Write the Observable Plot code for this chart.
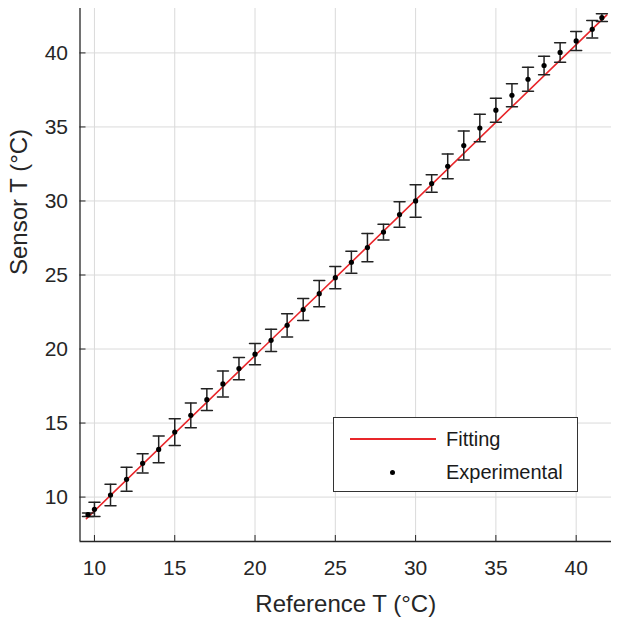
<!DOCTYPE html>
<html><head><meta charset="utf-8">
<script src="https://cdn.jsdelivr.net/npm/d3@7"></script>
<script src="https://cdn.jsdelivr.net/npm/@observablehq/plot@0.6"></script>
<style>
body{margin:0;background:#fff;}
#wrap{position:relative;width:620px;height:621px;font-family:"Liberation Sans",Arial,sans-serif;}
#legend{position:absolute;left:333px;top:417px;width:245px;height:75px;border:1.5px solid #333;background:#fff;box-sizing:border-box;color:#1a1a1a;font-size:20px;}
#legend .row{position:absolute;left:0;height:30px;width:100%;}
#legend .lab{position:absolute;left:112px;top:50%;transform:translateY(-50%);white-space:nowrap;}
#legend .ln{position:absolute;left:16px;width:86px;top:50%;height:2px;margin-top:-1px;background:#e8262a;}
#legend .dt{position:absolute;left:56px;top:50%;width:5px;height:5px;margin-top:-2.5px;border-radius:50%;background:#000;}
</style>
</head><body>
<div id="wrap"></div>
<script>
// Data
const refT = [9.6, 10, 11, 12, 13, 14, 15, 16, 17, 18, 19, 20, 21, 22, 23, 24, 25, 26, 27, 28, 29, 30, 31, 32, 33, 34, 35, 36, 37, 38, 39, 40, 41, 41.6];
const sensorT = [8.81, 9.17, 10.14, 11.2, 12.28, 13.22, 14.39, 15.52, 16.58, 17.64, 18.68, 19.65, 20.59, 21.6, 22.67, 23.74, 24.82, 25.86, 26.85, 27.9, 29.08, 30.0, 31.18, 32.34, 33.74, 34.93, 36.13, 37.14, 38.22, 39.15, 40.03, 40.81, 41.6, 42.38];
const errT = [0.12, 0.48, 0.73, 0.81, 0.65, 0.9, 0.9, 0.83, 0.73, 0.88, 0.75, 0.72, 0.75, 0.79, 0.75, 0.89, 0.75, 0.74, 0.96, 0.53, 0.86, 1.1, 0.59, 0.84, 0.98, 0.93, 0.81, 0.77, 0.81, 0.62, 0.66, 0.64, 0.59, 0.26];
const fitX = [9.5, 41.9];
const fitY = [8.54, 42.55];
const xTicks = [10, 15, 20, 25, 30, 35, 40];
const yTicks = [10, 15, 20, 25, 30, 35, 40];
const xDomain = [9.1, 42.2];
const yDomain = [7, 43];
const xLabel = "Reference T (°C)";
const yLabel = "Sensor T (°C)";
const legendLabels = ["Fitting", "Experimental"];

const pts = refT.map((x, i) => ({x, y: sensorT[i], lo: sensorT[i] - errT[i], hi: sensorT[i] + errT[i]}));
const fit = fitX.map((x, i) => ({x, y: fitY[i]}));
const capShape = {draw(c, l) { c.moveTo(0, 0); c.lineTo(0, -l); }};

const ink = "#262626";
const chart = Plot.plot({
  width: 620, height: 621,
  marginLeft: 79.5, marginRight: 9, marginTop: 8, marginBottom: 80,
  style: {fontFamily: '"Liberation Sans", Arial, sans-serif', fontSize: "21px", color: ink, background: "#fff"},
  x: {domain: xDomain, ticks: xTicks, label: null},
  y: {domain: yDomain, ticks: yTicks, label: null},
  marks: [
    Plot.gridX(xTicks, {stroke: "#dadada", strokeOpacity: 1, strokeWidth: 1}),
    Plot.gridY(yTicks, {stroke: "#dadada", strokeOpacity: 1, strokeWidth: 1}),
    Plot.ruleX([xDomain[0]], {stroke: ink, strokeWidth: 1.3}),
    Plot.ruleY([yDomain[0]], {stroke: ink, strokeWidth: 1.3}),
    Plot.axisX(xTicks, {tickSize: -6, tickPadding: 25, stroke: ink, fill: ink, fontSize: 21, label: null}),
    Plot.axisY(yTicks, {tickSize: -6, tickPadding: 18, stroke: ink, fill: ink, fontSize: 21, label: null}),
    Plot.line(fit, {x: "x", y: "y", stroke: "#e8262a", strokeWidth: 1.6}),
    Plot.ruleX(pts, {x: "x", y1: "lo", y2: "hi", stroke: "#222", strokeWidth: 1.5}),
    Plot.vector(pts, {x: "x", y: "lo", length: 11, rotate: 90, anchor: "middle", shape: capShape, stroke: "#222", strokeWidth: 1.5}),
    Plot.vector(pts, {x: "x", y: "hi", length: 11, rotate: 90, anchor: "middle", shape: capShape, stroke: "#222", strokeWidth: 1.5}),
    Plot.dot(pts, {x: "x", y: "y", r: 2.6, fill: "#000", stroke: "none"}),
    Plot.text([xLabel], {text: d => d, frameAnchor: "bottom", dy: 63, fontSize: 24, fill: ink, lineAnchor: "middle"}),
    Plot.text([yLabel], {text: d => d, frameAnchor: "left", dx: -61, rotate: -90, fontSize: 24, fill: ink, lineAnchor: "middle"})
  ]
});
const wrap = document.getElementById("wrap");
wrap.appendChild(chart);
const leg = document.createElement("div");
leg.id = "legend";
leg.innerHTML = `<div class="row" style="top:6px"><div class="ln"></div><div class="lab">${legendLabels[0]}</div></div>
<div class="row" style="top:39px"><div class="dt"></div><div class="lab">${legendLabels[1]}</div></div>`;
wrap.appendChild(leg);
</script>
</body></html>
